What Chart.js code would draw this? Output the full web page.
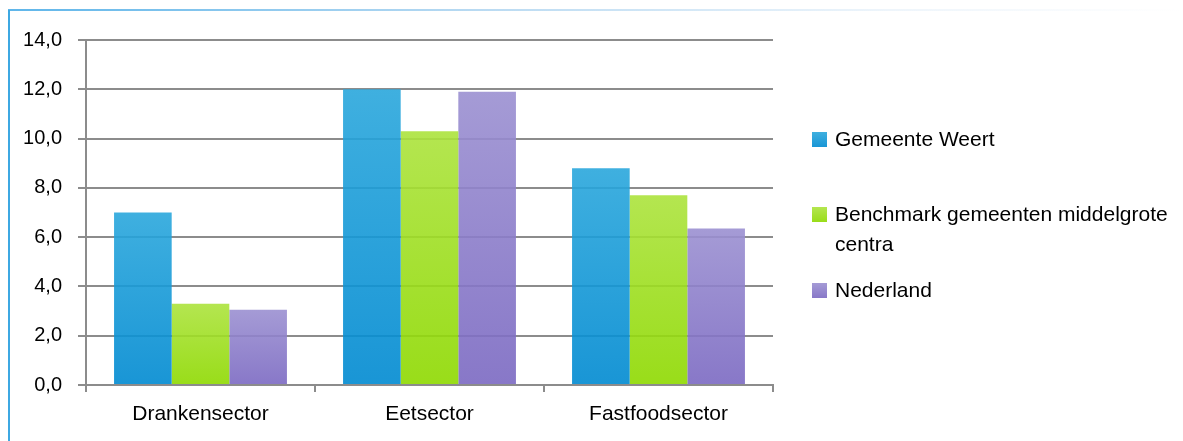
<!DOCTYPE html>
<html>
<head>
<meta charset="utf-8">
<script src="https://cdn.jsdelivr.net/npm/chart.js@4/dist/chart.umd.min.js"></script>
<style>
  html, body { margin: 0; padding: 0; background: #fff; }
  #wrap { position: relative; width: 1183px; height: 441px; overflow: hidden; }
  #frameLeft { position: absolute; left: 8px; top: 10px; width: 2px; height: 431px; background: #3ea8e2; }
  #frameTop { position: absolute; left: 8px; top: 9px; width: 1175px; height: 2px;
    background: linear-gradient(to right, #5fb6ea, #b9daf2 40%, #eef5fb 75%, #ffffff); }
  #chartBox { position: absolute; left: 0; top: 0; width: 1183px; height: 441px; }
  #legend { position: absolute; left: 812px; top: 0; width: 370px;
    font-family: "Liberation Sans", Arial, sans-serif; font-size: 21px; color: #000; }
  .item { position: absolute; left: 0; display: flex; align-items: flex-start; width: 370px; }
  .box { width: 15px; height: 15px; margin-top: 8px; margin-right: 8px; flex: none; }
  .txt { line-height: 30px; width: 345px; }
</style>
</head>
<body>
<div id="wrap">
  <div id="frameTop"></div>
  <div id="frameLeft"></div>
  <div id="chartBox"><canvas id="sectorChart" width="1183" height="441"></canvas></div>
  <div id="legend"></div>
</div>
<script>
// Data
const categories = ["Drankensector", "Eetsector", "Fastfoodsector"];
const seriesNames = ["Gemeente Weert", "Benchmark gemeenten middelgrote centra", "Nederland"];
const weert = [7.0, 12.0, 8.8];
const benchmark = [3.3, 10.3, 7.7];
const nederland = [3.05, 11.9, 6.35];
const yTicks = [0, 2, 4, 6, 8, 10, 12, 14];

// top / bottom colours of each series gradient
const gradColors = [
  ["rgba(42, 167, 220, 0.9)", "rgba(0, 138, 209, 0.9)"],
  ["rgba(172, 227, 61, 0.9)", "rgba(142, 217, 0, 0.9)"],
  ["rgba(155, 144, 209, 0.9)", "rgba(123, 105, 194, 0.9)"]
];

function barGradient(ctx, idx) {
  const chart = ctx.chart;
  if (!chart.chartArea || ctx.parsed === undefined) return gradColors[idx][1];
  const y = chart.scales.y;
  const top = y.getPixelForValue(ctx.parsed.y);
  const bottom = y.getPixelForValue(0);
  const g = chart.ctx.createLinearGradient(0, top, 0, bottom);
  g.addColorStop(0, gradColors[idx][0]);
  g.addColorStop(1, gradColors[idx][1]);
  return g;
}

const allSeries = [weert, benchmark, nederland];
const datasets = allSeries.map((vals, i) => ({
  label: seriesNames[i],
  data: vals,
  backgroundColor: (ctx) => barGradient(ctx, i),
  borderWidth: 0,
  barPercentage: 1.0,
  categoryPercentage: 0.755
}));

const ctx = document.getElementById("sectorChart").getContext("2d");
const fontFamily = '"Liberation Sans", Arial, sans-serif';

new Chart(ctx, {
  type: "bar",
  data: { labels: categories, datasets: datasets },
  options: {
    responsive: false,
    animation: false,
    layout: { padding: { left: 10, right: 410, top: 40, bottom: 0 } },
    plugins: { legend: { display: false }, tooltip: { enabled: false } },
    scales: {
      x: {
        grid: {
          display: true,
          drawOnChartArea: false,
          drawTicks: true,
          tickLength: 7,
          color: "#8c8c8c",
          lineWidth: 2,
          offset: true
        },
        border: { display: true, color: "#8c8c8c", width: 2 },
        ticks: { color: "#000", font: { family: fontFamily, size: 21 }, padding: 10 },
        afterFit: (s) => { s.height = 56; }
      },
      y: {
        min: 0,
        max: 14,
        afterBuildTicks: (s) => { s.ticks = yTicks.map((v) => ({ value: v })); },
        grid: { color: "#8c8c8c", lineWidth: 2, tickLength: 8 },
        border: { display: true, color: "#8c8c8c", width: 2 },
        ticks: {
          color: "#000",
          font: { family: fontFamily, size: 20 },
          padding: 16,
          callback: (v) => v.toFixed(1).replace(".", ",")
        },
        afterFit: (s) => { s.width = 76; }
      }
    }
  }
});

// Legend (HTML, so the long label can wrap)
const legendTops = [124, 199, 275];
const legendEl = document.getElementById("legend");
seriesNames.forEach((name, i) => {
  const item = document.createElement("div");
  item.className = "item";
  item.style.top = legendTops[i] + "px";
  const box = document.createElement("div");
  box.className = "box";
  box.style.background = "linear-gradient(" + gradColors[i][0] + ", " + gradColors[i][1] + ")";
  const txt = document.createElement("div");
  txt.className = "txt";
  txt.textContent = name;
  item.appendChild(box);
  item.appendChild(txt);
  legendEl.appendChild(item);
});
</script>
</body>
</html>
